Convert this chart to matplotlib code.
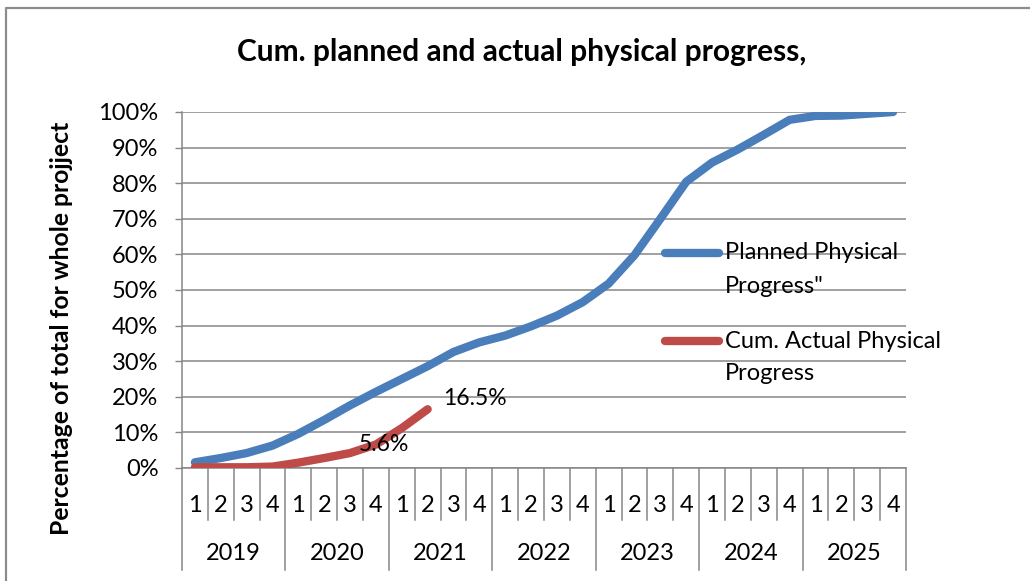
import matplotlib
matplotlib.use("Agg")
import matplotlib.pyplot as plt
from matplotlib.lines import Line2D

# quarterly categories, two-level axis
quarters = ["1", "2", "3", "4"] * 7
years = ["2019", "2020", "2021", "2022", "2023", "2024", "2025"]

# cumulative progress in percent
planned = [1.6, 2.8, 4.2, 6.3, 9.6, 13.5, 17.6, 21.4, 25.0, 28.6,
           32.6, 35.3, 37.2, 39.8, 42.8, 46.6, 51.8, 59.8, 70.0, 80.4,
           85.8, 89.5, 93.6, 97.8, 98.9, 99.0, 99.5, 100.0]
actual = [0.2, 0.2, 0.2, 0.4, 1.5, 2.8, 4.2, 6.6, 11.2, 16.5]

# data labels: (index, text)
actual_labels = [(7, "5.6%"), (9, "16.5%")]

series_names = ["Planned Physical\nProgress\"", "Cum. Actual Physical\nProgress"]
BLUE = "#4A7EBB"
RED = "#BE4B48"
GRID = "#868686"
FONT = "Lato"
LW = 6

plt.rcParams["font.family"] = [FONT, "DejaVu Sans"]

fig = plt.figure(figsize=(10.3, 5.81), dpi=100)
W, H = 1030, 581


def fx(px):
    return px / W


def fy(py):
    return 1 - py / H


ax = fig.add_axes([fx(182), fy(468), fx(906) - fx(182), fy(112) - fy(468)])

x = list(range(len(quarters)))
ax.plot(x, [v / 100 for v in planned], color=BLUE, lw=LW,
        solid_capstyle="round", solid_joinstyle="round", zorder=3)
ax.plot(x[:len(actual)], [v / 100 for v in actual], color=RED, lw=LW,
        solid_capstyle="round", solid_joinstyle="round", zorder=3)

ax.set_xlim(-0.5, len(quarters) - 0.5)
ax.set_ylim(0, 1)
ax.set_yticks([i / 10 for i in range(11)])
ax.set_yticklabels([f"{i * 10}%" for i in range(11)], fontsize=17)
ax.yaxis.grid(True, color=GRID, lw=1.1)
ax.set_axisbelow(True)
ax.tick_params(axis="y", direction="out", length=5, width=1, color=GRID, pad=12)
ax.set_xticks([])
for s in ["top", "right"]:
    ax.spines[s].set_visible(False)
for s in ["left", "bottom"]:
    ax.spines[s].set_color(GRID)
    ax.spines[s].set_linewidth(1.1)

# two-level category axis
plot_h = 468 - 112
xt = ax.get_xaxis_transform()
for i in range(len(quarters) + 1):
    depth = 102 if i % 4 == 0 else 52
    ax.plot([i - 0.5, i - 0.5], [0, -depth / plot_h], transform=xt,
            color=GRID, lw=1.1, clip_on=False)
for i, q in enumerate(quarters):
    ax.text(i, -37 / plot_h, q, transform=xt, ha="center", va="center", fontsize=17)
for k, yr in enumerate(years):
    ax.text(4 * k + 1.5, -86 / plot_h, yr, transform=xt, ha="center", va="center",
            fontsize=17)

# data labels
for idx, txt in actual_labels:
    if idx == 9:
        ax.annotate(txt, (idx, actual[idx] / 100), xytext=(47, 11),
                    textcoords="offset pixels", ha="center", va="center", fontsize=16.5)
    else:
        ax.annotate(txt, (idx, actual[idx] / 100), xytext=(8, 0),
                    textcoords="offset pixels", ha="center", va="center", fontsize=16.5,
                    zorder=4)

fig.text(fx(62), fy(328), "Percentage of total for whole projject", rotation=90,
         ha="center", va="center", fontsize=17.8, fontweight="bold")

fig.text(fx(522), fy(52), "Cum. planned and actual physical progress,",
         ha="center", va="center", fontsize=21.5, fontweight="bold")

# legend drawn at the right, handle aligned with first text line
for k, (name, col) in enumerate(zip(series_names, [BLUE, RED])):
    yy = 253 + k * 88
    fig.add_artist(Line2D([fx(665), fx(719)], [fy(yy), fy(yy)], color=col, lw=LW,
                          solid_capstyle="round"))
    for j, part in enumerate(name.split("\n")):
        fig.text(fx(725), fy(yy + j * 33), part, ha="left", va="center", fontsize=17)

# chart border
fig.add_artist(Line2D([fx(6), fx(6), 1], [0, fy(8), fy(8)], color="#8c8c8c", lw=1.6))

fig.savefig("out.png", dpi=100)
